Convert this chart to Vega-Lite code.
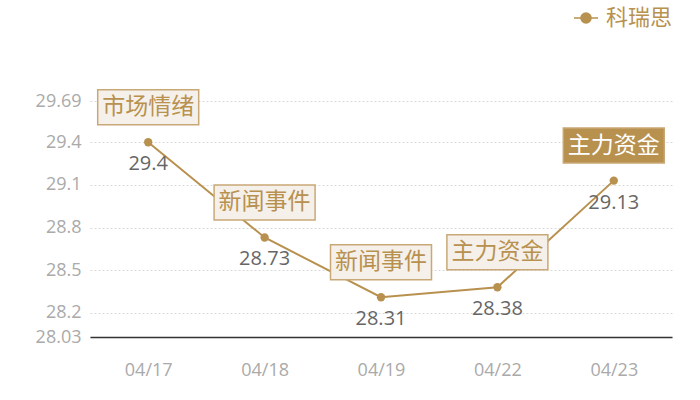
{
  "$schema": "https://vega.github.io/schema/vega-lite/v6.json",
  "width": 582,
  "height": 236,
  "autosize": {"type": "none"},
  "padding": {"left": 90, "top": 101, "right": 28, "bottom": 63},
  "background": "#ffffff",
  "config": {
    "view": {"stroke": null},
    "font": "Open Sans"
  },
  "data": {
    "values": [
      {"date": "04/17", "value": 29.4, "note": "市场情绪", "series": "科瑞思"},
      {"date": "04/18", "value": 28.73, "note": "新闻事件", "series": "科瑞思"},
      {"date": "04/19", "value": 28.31, "note": "新闻事件", "series": "科瑞思"},
      {"date": "04/22", "value": 28.38, "note": "主力资金", "series": "科瑞思"},
      {"date": "04/23", "value": 29.13, "note": "主力资金", "series": "科瑞思"}
    ]
  },
  "encoding": {
    "x": {
      "field": "date",
      "type": "ordinal",
      "scale": {"type": "point", "padding": 0.5},
      "axis": {
        "title": null,
        "labelAngle": 0,
        "labelColor": "#aaaaaa",
        "labelFontSize": 18,
        "labelPadding": 24,
        "ticks": false,
        "domainColor": "#333333",
        "domainWidth": 1.5,
        "grid": false
      }
    },
    "y": {
      "field": "value",
      "type": "quantitative",
      "scale": {"domain": [28.03, 29.69], "nice": false, "zero": false},
      "axis": {
        "title": null,
        "values": [28.03, 28.2, 28.5, 28.8, 29.1, 29.4, 29.69],
        "labelExpr": "'' + datum.value",
        "labelColor": "#aaaaaa",
        "labelFontSize": 18,
        "labelPadding": 9,
        "ticks": false,
        "domain": false,
        "gridColor": "#d9d9d9",
        "gridDash": [2, 2],
        "gridWidth": 1
      }
    }
  },
  "layer": [
    {
      "mark": {"type": "line", "strokeWidth": 2},
      "encoding": {
        "color": {
          "field": "series",
          "type": "nominal",
          "scale": {"range": ["#b8914f"]},
          "legend": {
            "title": null,
            "orient": "none",
            "legendX": 483,
            "legendY": -96,
            "symbolType": "M-1,0H1M-0.42,0A0.42,0.42,0,1,1,0.42,0A0.42,0.42,0,1,1,-0.42,0Z",
            "symbolSize": 576,
            "symbolFillColor": "#b8914f",
            "symbolStrokeColor": "#b8914f",
            "symbolStrokeWidth": 1.5,
            "labelColor": "#b8914f",
            "labelFontSize": 22,
            "labelFont": "Noto Sans CJK SC",
            "labelOffset": 7
          }
        }
      }
    },
    {
      "mark": {"type": "circle", "size": 70, "color": "#b8914f", "opacity": 1}
    },
    {
      "mark": {
        "type": "rect",
        "width": 101,
        "height": 35,
        "yOffset": -35,
        "stroke": "#c9a877",
        "strokeWidth": 1.5
      },
      "encoding": {
        "fill": {
          "condition": {"test": "datum.date === '04/23'", "value": "#b8914f"},
          "value": "#f5f0ea"
        }
      }
    },
    {
      "mark": {
        "type": "text",
        "dy": -35,
        "baseline": "middle",
        "font": "Noto Sans CJK SC",
        "fontSize": 23
      },
      "encoding": {
        "text": {"field": "note"},
        "color": {
          "condition": {"test": "datum.date === '04/23'", "value": "#ffffff"},
          "value": "#b8914f"
        }
      }
    },
    {
      "mark": {
        "type": "text",
        "dy": 22,
        "baseline": "middle",
        "fontSize": 20,
        "color": "#666666"
      },
      "encoding": {
        "text": {"field": "value"}
      }
    }
  ]
}
